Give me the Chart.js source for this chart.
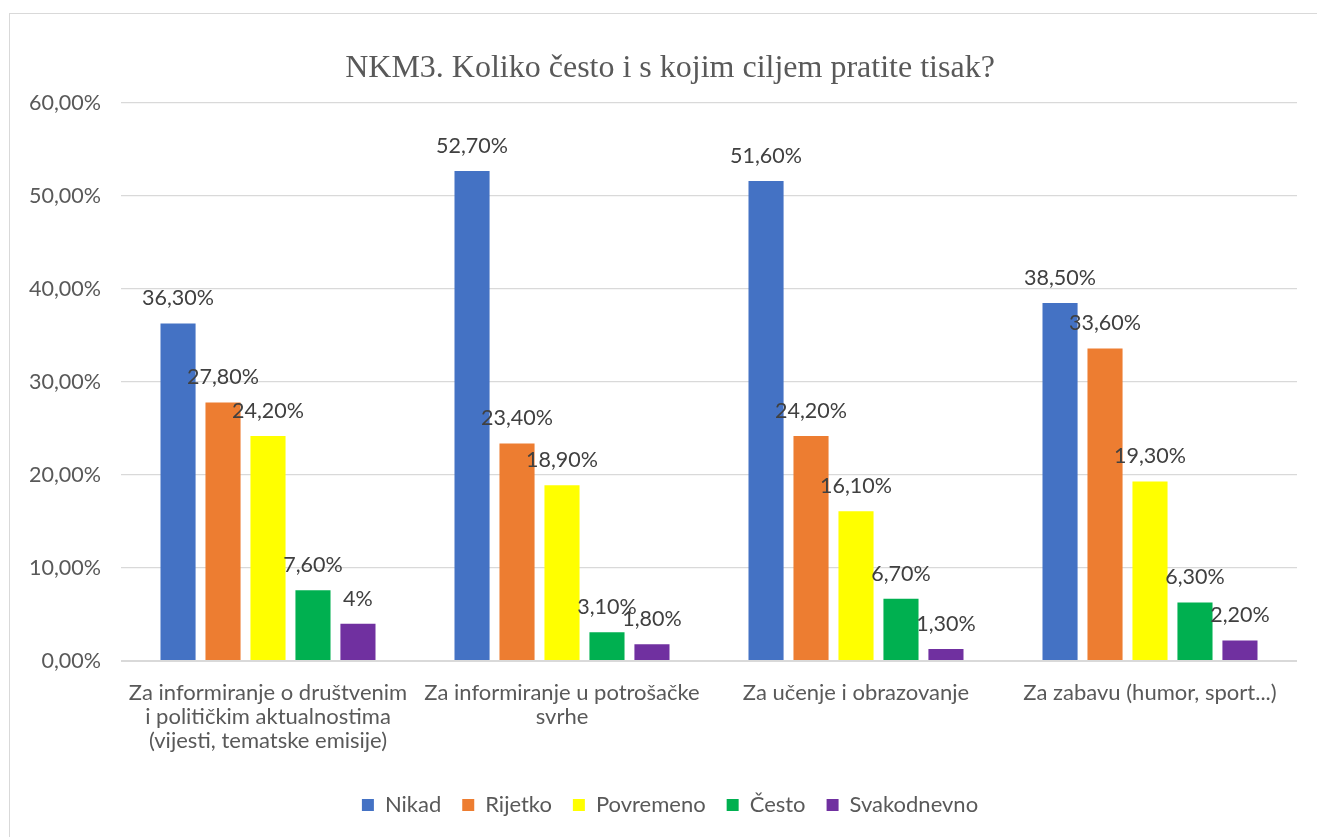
<!DOCTYPE html>
<html>
<head>
<meta charset="utf-8">
<script src="https://cdn.jsdelivr.net/npm/chart.js@4.4.1/dist/chart.umd.min.js"></script>
<style>
  html, body { margin: 0; padding: 0; background: #fff; overflow: hidden; width: 1317px; height: 837px; }
  #frame { position: absolute; left: 9px; top: 13px; width: 1324px; height: 830px; border: 1px solid #d9d9d9; box-sizing: border-box; }
  #wrap { position: absolute; left: 8px; top: 13px; width: 1324px; height: 824px; }
</style>
</head>
<body>
<div id="frame"></div>
<div id="wrap"><canvas id="c" width="1324" height="824"></canvas></div>
<script>
const categories = [
  ["Za informiranje o društvenim", "i političkim aktualnostima", "(vijesti, tematske emisije)"],
  ["Za informiranje u potrošačke", "svrhe"],
  ["Za učenje i obrazovanje"],
  ["Za zabavu (humor, sport...)"]
];
const seriesNames = ["Nikad", "Rijetko", "Povremeno", "Često", "Svakodnevno"];
const nikad = [36.3, 52.7, 51.6, 38.5];
const rijetko = [27.8, 23.4, 24.2, 33.6];
const povremeno = [24.2, 18.9, 16.1, 19.3];
const cesto = [7.6, 3.1, 6.7, 6.3];
const svakodnevno = [4, 1.8, 1.3, 2.2];
const yTicks = [0, 10, 20, 30, 40, 50, 60];

const colors = ["#4472C4", "#ED7D31", "#FFFF00", "#00B050", "#7030A0"];
const seriesValues = [nikad, rijetko, povremeno, cesto, svakodnevno];

const FONT = "Lato, Carlito, Calibri, 'Noto Sans', sans-serif";

function fmtLabel(v) {
  if (Number.isInteger(v)) return v + "%";
  return v.toFixed(2).replace(".", ",") + "%";
}

const dataLabelPlugin = {
  id: "dataLabels",
  afterDatasetsDraw(chart) {
    const ctx = chart.ctx;
    ctx.save();
    ctx.font = "21.5px " + FONT;
    ctx.fillStyle = "#404040";
    ctx.textAlign = "center";
    ctx.textBaseline = "middle";
    chart.data.datasets.forEach((ds, i) => {
      const meta = chart.getDatasetMeta(i);
      meta.data.forEach((el, j) => {
        ctx.fillText(fmtLabel(ds.data[j]), el.x, el.y - 25);
      });
    });
    ctx.restore();
  }
};

// center title and legend on the whole canvas width
const centerBoxesPlugin = {
  id: "centerBoxes",
  afterLayout(chart) {
    [chart.titleBlock, chart.legend].forEach((b) => {
      if (!b) return;
      b.left = 0;
      b.right = chart.width;
      b.width = chart.width;
    });
  }
};

new Chart(document.getElementById("c"), {
  type: "bar",
  data: {
    labels: categories,
    datasets: seriesNames.map((n, i) => ({
      label: n,
      data: seriesValues[i],
      backgroundColor: colors[i],
      borderWidth: 0,
      categoryPercentage: 0.765,
      barPercentage: 0.78
    }))
  },
  options: {
    responsive: false,
    animation: false,
    devicePixelRatio: 1,
    layout: { padding: { left: 0, right: 35, top: 0, bottom: 11 } },
    plugins: {
      title: {
        display: true,
        text: "NKM3. Koliko često i s kojim ciljem pratite tisak?",
        color: "#595959",
        font: { family: "'Liberation Serif', 'Times New Roman', serif", size: 32, weight: "normal" },
        padding: { top: 36, bottom: 15.6 }
      },
      legend: {
        position: "bottom",
        labels: {
          color: "#595959",
          font: { family: FONT, size: 22 },
          boxWidth: 12,
          boxHeight: 12,
          padding: 21
        }
      },
      tooltip: { enabled: false }
    },
    scales: {
      x: {
        grid: { display: false, drawTicks: false },
        border: { display: false },
        ticks: {
          color: "#595959",
          font: { family: FONT, size: 22, lineHeight: 1.0909 },
          padding: 20,
          maxRotation: 0,
          autoSkip: false
        },
        afterFit(scale) { scale.height = 112; }
      },
      y: {
        min: 0,
        max: 60,
        afterBuildTicks(scale) { scale.ticks = yTicks.map(v => ({ value: v })); },
        grid: {
          color: "#D9D9D9",
          lineWidth: (c) => (c.tick && c.tick.value === 0 ? 2 : 1.3),
          drawTicks: false
        },
        border: { display: false },
        ticks: {
          color: "#595959",
          font: { family: FONT, size: 21.5 },
          padding: 20,
          callback: (v) => v.toFixed(2).replace(".", ",") + "%"
        },
        afterFit(scale) { scale.width = 113; }
      }
    }
  },
  plugins: [dataLabelPlugin, centerBoxesPlugin]
});
</script>
</body>
</html>
